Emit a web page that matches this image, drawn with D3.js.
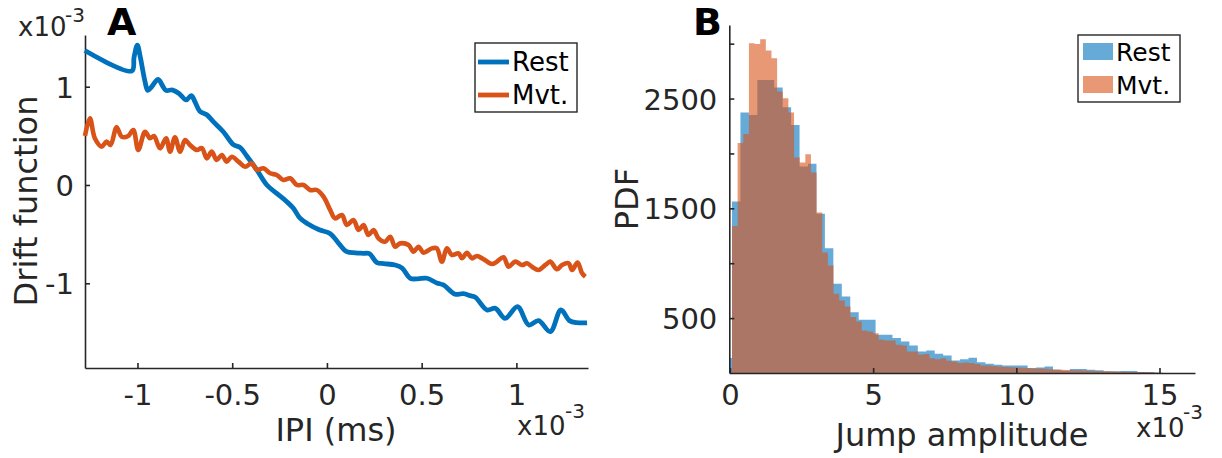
<!DOCTYPE html>
<html><head><meta charset="utf-8">
<script src="https://cdn.jsdelivr.net/npm/d3@7"></script>
<style>
body{margin:0;background:#fff}
svg{display:block}
text{font-family:"DejaVu Sans",sans-serif;fill:#262626}
</style>
</head><body>
<svg id="c" width="1222" height="458"></svg>
<script>
// ---------- Panel A data (IPI in 1e-3 ms, drift in 1e-3) ----------
const restX = [-1.278,-1.030,-1.018,-1.001,-0.985,-0.960,-0.946,-0.925,-0.891,-0.865,-0.850,-0.814,-0.780,-0.743,-0.716,-0.695,-0.671,-0.634,-0.600,-0.547,-0.494,-0.459,-0.423,-0.370,-0.317,-0.265,-0.212,-0.177,-0.142,-0.102,-0.041,0.018,0.061,0.105,0.150,0.193,0.224,0.264,0.300,0.360,0.397,0.440,0.480,0.528,0.580,0.615,0.677,0.720,0.756,0.783,0.845,0.889,0.941,1.006,1.065,1.117,1.179,1.235,1.280,1.320,1.373];
const restY = [1.368,1.160,1.300,1.424,1.300,1.050,0.963,1.000,1.075,1.000,0.963,0.966,0.930,0.865,0.910,0.840,0.750,0.715,0.644,0.542,0.410,0.383,0.295,0.153,0.000,-0.085,-0.170,-0.237,-0.338,-0.395,-0.456,-0.495,-0.591,-0.679,-0.690,-0.695,-0.699,-0.790,-0.800,-0.814,-0.845,-0.949,-0.955,-0.949,-0.997,-1.017,-1.112,-1.105,-1.126,-1.142,-1.272,-1.255,-1.357,-1.238,-1.424,-1.380,-1.492,-1.272,-1.380,-1.401,-1.402];
const mvtX = [-1.277,-1.251,-1.225,-1.189,-1.163,-1.142,-1.110,-1.083,-1.049,-1.022,-0.996,-0.960,-0.934,-0.913,-0.881,-0.849,-0.828,-0.802,-0.775,-0.749,-0.723,-0.687,-0.660,-0.634,-0.608,-0.582,-0.555,-0.529,-0.502,-0.467,-0.432,-0.397,-0.370,-0.335,-0.300,-0.265,-0.230,-0.194,-0.159,-0.124,-0.089,-0.053,-0.018,0.017,0.043,0.079,0.105,0.140,0.167,0.193,0.219,0.246,0.272,0.307,0.334,0.360,0.387,0.431,0.457,0.483,0.510,0.554,0.580,0.607,0.633,0.660,0.695,0.713,0.739,0.765,0.792,0.827,0.871,0.897,0.932,0.959,0.994,1.030,1.056,1.082,1.117,1.153,1.179,1.214,1.241,1.276,1.294,1.323,1.347,1.364];
const mvtY = [0.499,0.679,0.475,0.390,0.441,0.407,0.587,0.491,0.498,0.559,0.356,0.542,0.475,0.498,0.373,0.475,0.339,0.485,0.339,0.458,0.407,0.356,0.375,0.271,0.339,0.254,0.305,0.237,0.288,0.237,0.186,0.221,0.153,0.170,0.119,0.102,0.051,0.068,0.000,0.000,-0.051,-0.051,-0.119,-0.254,-0.339,-0.305,-0.407,-0.356,-0.458,-0.407,-0.509,-0.458,-0.543,-0.577,-0.526,-0.628,-0.594,-0.611,-0.679,-0.628,-0.689,-0.645,-0.645,-0.781,-0.645,-0.712,-0.695,-0.746,-0.689,-0.746,-0.722,-0.756,-0.804,-0.780,-0.735,-0.831,-0.780,-0.814,-0.797,-0.831,-0.865,-0.814,-0.780,-0.858,-0.814,-0.797,-0.865,-0.790,-0.899,-0.933];
const ipiTicks = [-1,-0.5,0,0.5,1];
const ipiLabels = ["-1","-0.5","0","0.5","1"];
const driftTicks = [-1,0,1];
const driftLabels = ["-1","0","1"];

// ---------- Panel B data (jump amplitude in 1e-3) ----------
const restBinStart = -0.225, restBinWidth = 0.295;
const restCounts = [136,1562,2372,2350,2670,2670,2600,2421,2260,1880,1906,1450,1137,812,697,554,484,484,348,348,318,287,251,196,205,175,160,114,126,138,99,84,75,69,69,69,45,50,60,30,21,36,36,30,25,15,15,18,18,10,10,3];
const mvtBinStart = 0.07, mvtBinWidth = 0.197;
const mvtCounts = [1340,2094,2178,3004,2998,3040,2937,2868,2564,2503,2372,1963,1917,1993,1826,1462,1097,979,721,660,606,509,469,387,378,363,302,296,296,257,251,196,196,166,172,135,126,135,111,105,90,96,90,81,69,69,62,60,55,52,50,48,45,42,40,38,35,32,30,28,26,24,22,20,18,17,15,14,12,11,10,9,8,6,5,4];
const ampTicks = [0,5,10,15];
const ampLabels = ["0","5","10","15"];
const pdfTicks = [500,1000,1500,2000,2500,3000];
const pdfLabels = {500:"500",1500:"1500",2500:"2500"};

const seriesNames = ["Rest","Mvt."];
const colors = ["#0072BD","#D95319"];
const AX = "#262626";

const svg = d3.select("#c");

function styleAxis(g){
  g.select(".domain").attr("stroke",AX).attr("stroke-width",1.6);
  g.selectAll(".tick line").attr("stroke",AX).attr("stroke-width",1.6);
  g.selectAll(".tick text").attr("fill",AX).style("font-size","29px").style("font-family","DejaVu Sans");
}

// ================= Panel A =================
const xA = d3.scaleLinear().domain([-1.277,1.378]).range([85,588]);
const yA = d3.scaleLinear().domain([-1.862,1.526]).range([368,35]);

const gxA = svg.append("g").attr("transform","translate(0,368)")
  .call(d3.axisBottom(xA).tickValues(ipiTicks).tickFormat((d,i)=>ipiLabels[i]).tickSizeInner(-5).tickSizeOuter(0));
styleAxis(gxA);
gxA.selectAll(".tick text").attr("y",37).attr("dy",null);

const gyA = svg.append("g").attr("transform","translate(85,0)")
  .call(d3.axisLeft(yA).tickValues(driftTicks).tickFormat((d,i)=>driftLabels[i]).tickSizeInner(-5).tickSizeOuter(0));
styleAxis(gyA);
gyA.selectAll(".tick text").attr("x",-11).attr("dy","0.36em");

const restPts = restX.map((x,i)=>[x,restY[i]]);
const mvtPts = mvtX.map((x,i)=>[x,mvtY[i]]);
svg.append("path").attr("d",d3.line().x(d=>xA(d[0])).y(d=>yA(d[1])).curve(d3.curveCatmullRom.alpha(0.5))(restPts))
  .attr("fill","none").attr("stroke",colors[0]).attr("stroke-width",4.8).attr("stroke-linejoin","round");
svg.append("path").attr("d",d3.line().x(d=>xA(d[0])).y(d=>yA(d[1])).curve(d3.curveCatmullRom.alpha(0.5))(mvtPts))
  .attr("fill","none").attr("stroke",colors[1]).attr("stroke-width",4.6).attr("stroke-linejoin","round");

// labels A
svg.append("text").attr("x",336).attr("y",441).attr("text-anchor","middle").style("font-size","32px").text("IPI (ms)");
svg.append("text").attr("transform","translate(37,201) rotate(-90)").attr("text-anchor","middle").style("font-size","32px").text("Drift function");
svg.append("text").attr("x",18).attr("y",36).style("font-size","26px").text("x10");
svg.append("text").attr("x",65).attr("y",22).style("font-size","20px").text("-3");
svg.append("text").attr("x",517).attr("y",435).style("font-size","26px").text("x10");
svg.append("text").attr("x",565).attr("y",418).style("font-size","20px").text("-3");
svg.append("text").attr("x",107).attr("y",35).style("font-size","38px").style("font-weight","bold").style("fill","#000").text("A");

// legend A
svg.append("rect").attr("x",475).attr("y",43).attr("width",102).attr("height",69).attr("fill","#fff").attr("stroke",AX).attr("stroke-width",1.4);
[62,95].forEach((yy,i)=>{
  svg.append("line").attr("x1",478).attr("x2",509).attr("y1",yy).attr("y2",yy).attr("stroke",colors[i]).attr("stroke-width",4.8);
  svg.append("text").attr("x",512).attr("y",yy).attr("dy","0.36em").style("font-size","26px").style("fill","#000").text(seriesNames[i]);
});

// ================= Panel B =================
const xB = d3.scaleLinear().domain([-0.024,16.24]).range([729.3,1195]);
const yB = d3.scaleLinear().domain([0,3170]).range([373,25]);

svg.append("defs").append("clipPath").attr("id","clipB").append("rect")
  .attr("x",xB.range()[0]).attr("y",yB.range()[1]).attr("width",xB.range()[1]-xB.range()[0]).attr("height",yB.range()[0]-yB.range()[1]);

function stepPoints(start,width,counts){
  const pts=[];
  counts.forEach((c,i)=>{ pts.push([start+i*width,c]); pts.push([start+(i+1)*width,c]); });
  return pts;
}
const areaB = d3.area().x(d=>xB(d[0])).y0(yB(0)).y1(d=>yB(d[1]));
const gH = svg.append("g").attr("clip-path","url(#clipB)");
gH.append("path").attr("d",areaB(stepPoints(restBinStart,restBinWidth,restCounts))).attr("fill",colors[0]).attr("fill-opacity",0.6);
gH.append("path").attr("d",areaB(stepPoints(mvtBinStart,mvtBinWidth,mvtCounts))).attr("fill",colors[1]).attr("fill-opacity",0.6);

const gxB = svg.append("g").attr("transform","translate(0,373)")
  .call(d3.axisBottom(xB).tickValues(ampTicks).tickFormat((d,i)=>ampLabels[i]).tickSizeInner(-5).tickSizeOuter(0));
styleAxis(gxB);
gxB.selectAll(".tick text").attr("y",32).attr("dy",null);

const gyB = svg.append("g").attr("transform","translate(729.3,0)")
  .call(d3.axisLeft(yB).tickValues(pdfTicks).tickFormat(d=>pdfLabels[d]||"").tickSizeInner(-5).tickSizeOuter(0));
styleAxis(gyB);
gyB.selectAll(".tick text").attr("x",-12).attr("dy","0.36em");

svg.append("text").attr("x",962).attr("y",446).attr("text-anchor","middle").style("font-size","32px").text("Jump amplitude");
svg.append("text").attr("transform","translate(638,199) rotate(-90)").attr("text-anchor","middle").style("font-size","32px").text("PDF");
svg.append("text").attr("x",1136).attr("y",437).style("font-size","26px").text("x10");
svg.append("text").attr("x",1183).attr("y",419).style("font-size","20px").text("-3");
svg.append("text").attr("x",693).attr("y",35).style("font-size","38px").style("font-weight","bold").style("fill","#000").text("B");

// legend B
svg.append("rect").attr("x",1078).attr("y",35).attr("width",102).attr("height",67).attr("fill","#fff").attr("stroke",AX).attr("stroke-width",1.4);
[[43,60],[76,93]].forEach((r,i)=>{
  svg.append("rect").attr("x",1083).attr("y",r[0]).attr("width",30).attr("height",r[1]-r[0]).attr("fill",colors[i]).attr("fill-opacity",0.6);
  svg.append("text").attr("x",1116).attr("y",(r[0]+r[1])/2).attr("dy","0.36em").style("font-size","25px").style("fill","#000").text(seriesNames[i]);
});
</script>
</body></html>
